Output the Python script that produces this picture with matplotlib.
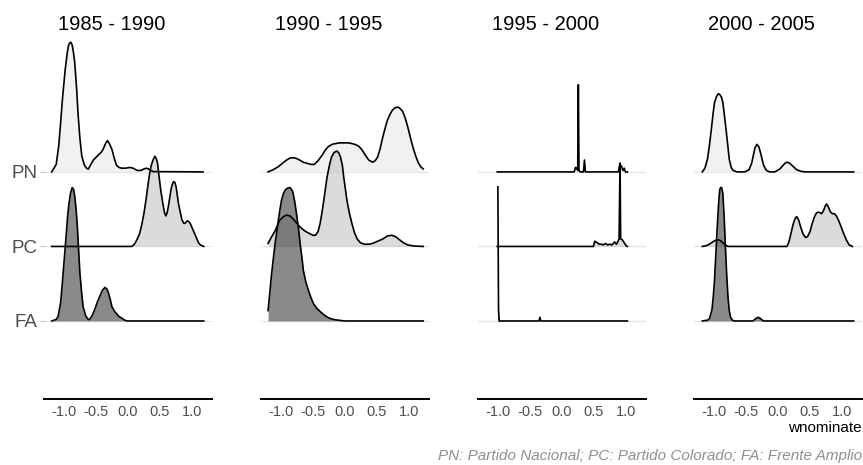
import matplotlib
matplotlib.use("Agg")
import matplotlib.pyplot as plt

plt.rcParams['font.family'] = ['Liberation Sans', 'DejaVu Sans']

# ---------------- data ----------------
periods = ["1985 - 1990", "1990 - 1995", "1995 - 2000", "2000 - 2005"]
parties = ["FA", "PC", "PN"]          # bottom to top
party_pos = [1, 2, 3]
x_ticks = [-1.0, -0.5, 0.0, 0.5, 1.0]
x_tick_labels = ["-1.0", "-0.5", "0.0", "0.5", "1.0"]

# 1985 - 1990
pn_1985_x = [-1.19, -1.12, -1.08, -1.06, -1.02, -0.98, -0.95, -0.93, -0.91, -0.89, -0.87, -0.85,
             -0.83, -0.80, -0.78, -0.75, -0.72, -0.68, -0.645, -0.62, -0.58, -0.54, -0.46, -0.42,
             -0.39, -0.35, -0.32, -0.29, -0.25, -0.21, -0.18, -0.14, -0.10, -0.04, 0.03, 0.08,
             0.14, 0.20, 0.25, 0.29, 0.34, 0.39, 1.17]
pn_1985_h = [0.0, 0.10, 0.35, 0.56, 1.00, 1.37, 1.58, 1.69, 1.73, 1.74, 1.70, 1.60,
             1.46, 1.10, 0.79, 0.45, 0.21, 0.09, 0.05, 0.036, 0.10, 0.16, 0.23, 0.26,
             0.30, 0.38, 0.42, 0.38, 0.30, 0.17, 0.09, 0.06, 0.05, 0.05, 0.06, 0.05,
             0.02, 0.02, 0.04, 0.05, 0.03, 0.004, 0.0]
pc_1985_x = [-1.19, 0.06, 0.10, 0.14, 0.18, 0.21, 0.25, 0.28, 0.33, 0.36, 0.39, 0.42, 0.44, 0.46,
             0.48, 0.51, 0.55, 0.57, 0.59, 0.61, 0.63, 0.67, 0.69, 0.71, 0.73, 0.75, 0.77, 0.79,
             0.84, 0.87, 0.89, 0.92, 0.94, 0.97, 0.99, 1.03, 1.07, 1.10, 1.13, 1.18]
pc_1985_h = [0.0, 0.0, 0.03, 0.09, 0.17, 0.27, 0.45, 0.62, 0.94, 1.08, 1.16, 1.21, 1.18, 1.12,
             0.97, 0.76, 0.54, 0.45, 0.41, 0.45, 0.54, 0.76, 0.83, 0.87, 0.86, 0.80, 0.68, 0.56,
             0.36, 0.31, 0.31, 0.34, 0.34, 0.31, 0.27, 0.19, 0.11, 0.05, 0.02, 0.0]
fa_1985_x = [-1.19, -1.12, -1.09, -1.05, -1.02, -0.97, -0.94, -0.92, -0.895, -0.87, -0.85, -0.83,
             -0.81, -0.79, -0.77, -0.75, -0.72, -0.70, -0.66, -0.62, -0.60, -0.56, -0.52, -0.48,
             -0.44, -0.40, -0.36, -0.33, -0.31, -0.28, -0.25, -0.21, -0.18, -0.14, -0.10, -0.05,
             -0.01, 1.18]
fa_1985_h = [0.0, 0.02, 0.06, 0.25, 0.55, 1.09, 1.42, 1.58, 1.72, 1.79, 1.77, 1.67,
             1.50, 1.27, 0.95, 0.64, 0.35, 0.19, 0.07, 0.02, 0.02, 0.07, 0.15, 0.25,
             0.33, 0.41, 0.45, 0.43, 0.39, 0.30, 0.19, 0.13, 0.10, 0.06, 0.04, 0.01,
             0.0, 0.0]

# 1990 - 1995
pn_1990_x = [-1.20, -1.12, -1.04, -0.97, -0.91, -0.86, -0.82, -0.77, -0.73, -0.65, -0.57, -0.52,
             -0.48, -0.42, -0.36, -0.31, -0.26, -0.20, -0.15, -0.08, -0.02, 0.05, 0.11, 0.17,
             0.22, 0.27, 0.32, 0.37, 0.43, 0.47, 0.51, 0.55, 0.59, 0.63, 0.66, 0.70, 0.74, 0.78,
             0.82, 0.86, 0.90, 0.94, 0.98, 1.02, 1.06, 1.10, 1.14, 1.18, 1.22]
pn_1990_h = [0.0, 0.03, 0.07, 0.12, 0.16, 0.185, 0.19, 0.185, 0.17, 0.13, 0.11, 0.10,
             0.10, 0.15, 0.22, 0.29, 0.34, 0.37, 0.38, 0.39, 0.39, 0.39, 0.38, 0.365,
             0.34, 0.29, 0.22, 0.16, 0.13, 0.15, 0.20, 0.32, 0.47, 0.60, 0.69, 0.77, 0.83, 0.86,
             0.87, 0.85, 0.81, 0.72, 0.60, 0.46, 0.33, 0.22, 0.13, 0.07, 0.04]
pc_1990_x = [-1.20, -1.15, -1.09, -1.02, -0.96, -0.91, -0.86, -0.81, -0.75, -0.70, -0.63, -0.57,
             -0.50, -0.46, -0.42, -0.39, -0.36, -0.33, -0.28, -0.24, -0.21, -0.17, -0.13, -0.10,
             -0.07, -0.04, -0.02, 0.03, 0.07, 0.11, 0.15, 0.19, 0.24, 0.30, 0.37, 0.43, 0.51,
             0.59, 0.66, 0.73, 0.79, 0.85, 0.91, 0.98, 1.08, 1.22]
pc_1990_h = [0.04, 0.12, 0.21, 0.35, 0.40, 0.42, 0.41, 0.37, 0.31, 0.26, 0.21, 0.18,
             0.15, 0.15, 0.20, 0.30, 0.45, 0.62, 0.93, 1.10, 1.20, 1.26, 1.28, 1.26,
             1.20, 1.08, 0.93, 0.62, 0.44, 0.30, 0.18, 0.10, 0.05, 0.03, 0.03, 0.04, 0.07,
             0.10, 0.14, 0.15, 0.13, 0.09, 0.05, 0.02, 0.005, 0.0]
fa_1990_x = [-1.20, -1.17, -1.15, -1.12, -1.09, -1.06, -1.04, -1.01, -0.99, -0.96, -0.93, -0.89,
             -0.86, -0.83, -0.81, -0.78, -0.75, -0.72, -0.70, -0.67, -0.65, -0.61, -0.57, -0.53,
             -0.49, -0.44, -0.38, -0.31, -0.25, -0.18, -0.10, 0.0, 1.22]
fa_1990_h = [0.14, 0.40, 0.59, 0.82, 1.04, 1.22, 1.35, 1.52, 1.62, 1.71, 1.76, 1.785,
             1.79, 1.76, 1.72, 1.58, 1.40, 1.20, 1.04, 0.84, 0.68, 0.52, 0.41, 0.31,
             0.23, 0.17, 0.12, 0.07, 0.04, 0.02, 0.01, 0.0, 0.0]

# 1995 - 2000
pn_1995_x = [-1.01, 0.19, 0.21, 0.23, 0.245, 0.255, 0.265, 0.28, 0.335, 0.35, 0.365, 0.88, 0.90,
             0.925, 0.95, 0.97, 0.99, 1.02]
pn_1995_h = [0.0, 0.0, 0.06, 0.05, 0.02, 1.17, 0.02, 0.0, 0.0, 0.16, 0.0, 0.0, 0.10,
             0.08, 0.02, 0.05, 0.0, 0.0]
pc_1995_x = [-1.01, 0.49, 0.51, 0.55, 0.58, 0.62, 0.64, 0.68, 0.71, 0.75, 0.78, 0.82, 0.85, 0.89,
             0.905, 0.915, 0.94, 0.97, 1.00, 1.02]
pc_1995_h = [0.0, 0.0, 0.07, 0.05, 0.03, 0.03, 0.02, 0.04, 0.02, 0.03, 0.02, 0.06, 0.03, 0.10,
             1.12, 0.10, 0.09, 0.05, 0.01, 0.0]
fa_1995_x = [-1.0, -0.99, -0.98, -0.36, -0.345, -0.33, 1.02]
fa_1995_h = [1.80, 0.15, 0.0, 0.0, 0.05, 0.0, 0.0]

# 2000 - 2005
pn_2000_x = [-1.18, -1.14, -1.10, -1.07, -1.04, -1.01, -0.99, -0.96, -0.93, -0.91, -0.88, -0.86,
             -0.84, -0.81, -0.78, -0.76, -0.73, -0.70, -0.64, -0.52, -0.45, -0.41, -0.38, -0.36,
             -0.33, -0.30, -0.27, -0.24, -0.22, -0.18, -0.13, -0.05, 0.03, 0.08, 0.12, 0.15,
             0.19, 0.24, 0.29, 0.35, 0.42, 1.18]
pn_2000_h = [0.0, 0.05, 0.17, 0.35, 0.57, 0.80, 0.93, 1.01, 1.05, 1.04, 1.00, 0.93,
             0.79, 0.57, 0.33, 0.17, 0.06, 0.02, 0.0, 0.0, 0.03, 0.12, 0.24, 0.32,
             0.37, 0.34, 0.25, 0.14, 0.08, 0.02, 0.0, 0.0, 0.04, 0.09, 0.125, 0.13,
             0.11, 0.07, 0.03, 0.01, 0.0, 0.0]
pc_2000_x = [-1.18, -1.12, -1.07, -1.02, -0.97, -0.94, -0.90, -0.86, -0.82, -0.78, 0.14, 0.17,
             0.19, 0.22, 0.24, 0.27, 0.29, 0.32, 0.35, 0.39, 0.43, 0.46, 0.50, 0.53, 0.57, 0.60,
             0.63, 0.66, 0.68, 0.71, 0.74, 0.76, 0.79, 0.82, 0.85, 0.88, 0.91, 0.95, 0.99, 1.03,
             1.07, 1.11, 1.16]
pc_2000_h = [0.0, 0.01, 0.03, 0.06, 0.085, 0.09, 0.08, 0.05, 0.02, 0.0, 0.0, 0.06,
             0.13, 0.24, 0.31, 0.38, 0.40, 0.36, 0.27, 0.17, 0.12, 0.13, 0.20, 0.30, 0.40, 0.45,
             0.46, 0.45, 0.44, 0.48, 0.55, 0.57, 0.52, 0.46, 0.44, 0.44, 0.41, 0.34, 0.25, 0.16,
             0.08, 0.02, 0.0]
fa_2000_x = [-1.18, -1.10, -1.07, -1.03, -1.01, -0.99, -0.97, -0.95, -0.93, -0.91, -0.895, -0.88,
             -0.86, -0.84, -0.82, -0.80, -0.78, -0.76, -0.74, -0.71, -0.68, -0.39, -0.35, -0.31,
             -0.27, -0.23, 1.18]
fa_2000_h = [0.0, 0.01, 0.03, 0.15, 0.32, 0.55, 0.88, 1.22, 1.52, 1.76, 1.79, 1.79,
             1.71, 1.40, 0.99, 0.62, 0.32, 0.14, 0.05, 0.01, 0.0, 0.0, 0.03, 0.05,
             0.03, 0.0, 0.0]

curves = {
    ("PN", 0): (pn_1985_x, pn_1985_h), ("PC", 0): (pc_1985_x, pc_1985_h), ("FA", 0): (fa_1985_x, fa_1985_h),
    ("PN", 1): (pn_1990_x, pn_1990_h), ("PC", 1): (pc_1990_x, pc_1990_h), ("FA", 1): (fa_1990_x, fa_1990_h),
    ("PN", 2): (pn_1995_x, pn_1995_h), ("PC", 2): (pc_1995_x, pc_1995_h), ("FA", 2): (fa_1995_x, fa_1995_h),
    ("PN", 3): (pn_2000_x, pn_2000_h), ("PC", 3): (pc_2000_x, pc_2000_h), ("FA", 3): (fa_2000_x, fa_2000_h),
}

# ---------------- styling ----------------
fill_colors = {"PN": "#e8e8e8", "PC": "#c4c4c4", "FA": "#3c3c3c"}
fill_alpha = 0.6
x_label = "wnominate"
caption = "PN: Partido Nacional; PC: Partido Colorado; FA: Frente Amplio"

W, H = 863, 465
fig = plt.figure(figsize=(W / 100, H / 100), dpi=100)
fig.patch.set_facecolor("white")

panel_lefts = [44, 261, 478, 694]
panel_w = 168
top_px, bottom_px = 40, 399

for i, period in enumerate(periods):
    ax = fig.add_axes([panel_lefts[i] / W, (H - bottom_px) / H, panel_w / W, (bottom_px - top_px) / H])
    ax.set_xlim(-1.31, 1.31)
    ax.set_ylim(-0.047, 4.77)
    for s in ["top", "right", "left"]:
        ax.spines[s].set_visible(False)
    ax.spines["bottom"].set_linewidth(1.4)
    ax.spines["bottom"].set_color("black")
    for p in party_pos:
        ax.axhline(p, color="#e6e6e6", lw=0.9, zorder=0)
    # draw top to bottom so lower ridges are in front
    for party, pos in sorted(zip(parties, party_pos), key=lambda t: -t[1]):
        xs, hs = curves[(party, i)]
        top = [pos + h for h in hs]
        ax.fill_between(xs, [pos] * len(xs), top, color=fill_colors[party], alpha=fill_alpha,
                        linewidth=0, zorder=2)
        ax.plot(xs, top, color="black", lw=1.2, zorder=3, solid_joinstyle="round")
    ax.set_xticks(x_ticks)
    ax.set_xticklabels(x_tick_labels)
    ax.tick_params(axis="x", length=0, pad=4, labelsize=10.5, labelcolor="#4d4d4d")
    if i == 0:
        ax.set_yticks(party_pos)
        ax.set_yticklabels(parties)
        ax.tick_params(axis="y", length=3, width=0.6, color="#b0b0b0", pad=1.5,
                       labelsize=13.5, labelcolor="#4d4d4d")
    else:
        ax.set_yticks([])
    fig.text((panel_lefts[i] + 14) / W, 1 - 25 / H, period, ha="left", va="center",
             fontsize=14.5, color="black")

fig.text(862 / W, 1 - 428 / H, x_label, ha="right", va="center", fontsize=11, color="black")
fig.text(862 / W, 1 - 456 / H, caption, ha="right", va="center", fontsize=11,
         color="#8f8f8f", style="italic")

fig.savefig("out.png", dpi=100)
